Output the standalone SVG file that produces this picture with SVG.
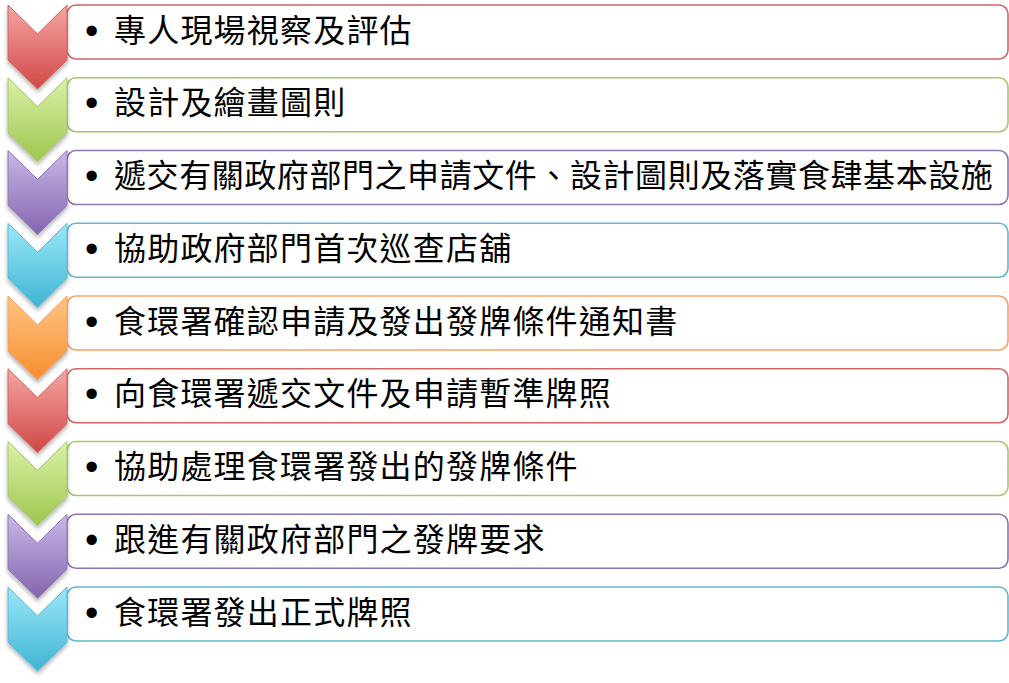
<svg xmlns="http://www.w3.org/2000/svg" width="1009" height="683" viewBox="0 0 1009 683">
<defs>
<filter id="sh" x="-20%" y="-20%" width="140%" height="140%">
<feDropShadow dx="0" dy="3" stdDeviation="2" flood-color="#000" flood-opacity="0.3"/>
</filter>
<linearGradient id="gRed" x1="0" y1="0" x2="0" y2="1"><stop offset="0" stop-color="#F5A6A4"/><stop offset="1" stop-color="#CF4845"/></linearGradient>
<linearGradient id="gGreen" x1="0" y1="0" x2="0" y2="1"><stop offset="0" stop-color="#DAF2A6"/><stop offset="1" stop-color="#9DC64F"/></linearGradient>
<linearGradient id="gPurple" x1="0" y1="0" x2="0" y2="1"><stop offset="0" stop-color="#C8B8E8"/><stop offset="1" stop-color="#8464AE"/></linearGradient>
<linearGradient id="gCyan" x1="0" y1="0" x2="0" y2="1"><stop offset="0" stop-color="#9AE8F8"/><stop offset="1" stop-color="#40B4D4"/></linearGradient>
<linearGradient id="gOrange" x1="0" y1="0" x2="0" y2="1"><stop offset="0" stop-color="#FFC486"/><stop offset="1" stop-color="#F78E2E"/></linearGradient>
<path id="chev" d="M8,0 L37.5,29 L67,0 L67,55 L37.5,84 L8,55 Z"/>
</defs>
<style>
.box{fill:#fff;stroke-width:1.6}
.chev{filter:url(#sh);stroke-width:1}
.t{font-family:"Noto Sans CJK TC","Noto Sans CJK SC",sans-serif;font-size:32px;fill:#000;letter-spacing:1.2px}
.b{font-family:"Liberation Sans",sans-serif;font-size:38px;fill:#000}
.red .box{stroke:#CF6664}.red .chev{fill:url(#gRed);stroke:#D06462}
.green .box{stroke:#A8C66C}.green .chev{fill:url(#gGreen);stroke:#A6C468}
.purple .box{stroke:#8E74B2}.purple .chev{fill:url(#gPurple);stroke:#9078B4}
.cyan .box{stroke:#5EB8D0}.cyan .chev{fill:url(#gCyan);stroke:#5CB8D2}
.orange .box{stroke:#F8A262}.orange .chev{fill:url(#gOrange);stroke:#F8A062}
</style>
<g id="connectors"></g>
<g id="step1" class="red" transform="translate(0,5)">
<rect class="box" x="67" y="0" width="941" height="54" rx="9"/>
<use href="#chev" class="chev"/>
<text class="b" x="85" y="38.5">•</text><text class="t" x="114" y="36.5">專人現場視察及評估</text>
</g>
<g id="step2" class="green" transform="translate(0,77.75)">
<rect class="box" x="67" y="0" width="941" height="54" rx="9"/>
<use href="#chev" class="chev"/>
<text class="b" x="85" y="38.5">•</text><text class="t" x="114" y="36.5">設計及繪畫圖則</text>
</g>
<g id="step3" class="purple" transform="translate(0,150.5)">
<rect class="box" x="67" y="0" width="941" height="54" rx="9"/>
<use href="#chev" class="chev"/>
<text class="b" x="85" y="38.5">•</text><text class="t" x="114" y="36.5" textLength="880" lengthAdjust="spacing">遞交有關政府部門之申請文件、設計圖則及落實食肆基本設施</text>
</g>
<g id="step4" class="cyan" transform="translate(0,223.25)">
<rect class="box" x="67" y="0" width="941" height="54" rx="9"/>
<use href="#chev" class="chev"/>
<text class="b" x="85" y="38.5">•</text><text class="t" x="114" y="36.5">協助政府部門首次巡查店舖</text>
</g>
<g id="step5" class="orange" transform="translate(0,296)">
<rect class="box" x="67" y="0" width="941" height="54" rx="9"/>
<use href="#chev" class="chev"/>
<text class="b" x="85" y="38.5">•</text><text class="t" x="114" y="36.5">食環署確認申請及發出發牌條件通知書</text>
</g>
<g id="step6" class="red" transform="translate(0,368.75)">
<rect class="box" x="67" y="0" width="941" height="54" rx="9"/>
<use href="#chev" class="chev"/>
<text class="b" x="85" y="38.5">•</text><text class="t" x="114" y="36.5">向食環署遞交文件及申請暫準牌照</text>
</g>
<g id="step7" class="green" transform="translate(0,441.5)">
<rect class="box" x="67" y="0" width="941" height="54" rx="9"/>
<use href="#chev" class="chev"/>
<text class="b" x="85" y="38.5">•</text><text class="t" x="114" y="36.5">協助處理食環署發出的發牌條件</text>
</g>
<g id="step8" class="purple" transform="translate(0,514.25)">
<rect class="box" x="67" y="0" width="941" height="54" rx="9"/>
<use href="#chev" class="chev"/>
<text class="b" x="85" y="38.5">•</text><text class="t" x="114" y="36.5">跟進有關政府部門之發牌要求</text>
</g>
<g id="step9" class="cyan" transform="translate(0,587)">
<rect class="box" x="67" y="0" width="941" height="54" rx="9"/>
<use href="#chev" class="chev"/>
<text class="b" x="85" y="38.5">•</text><text class="t" x="114" y="36.5">食環署發出正式牌照</text>
</g>
</svg>
